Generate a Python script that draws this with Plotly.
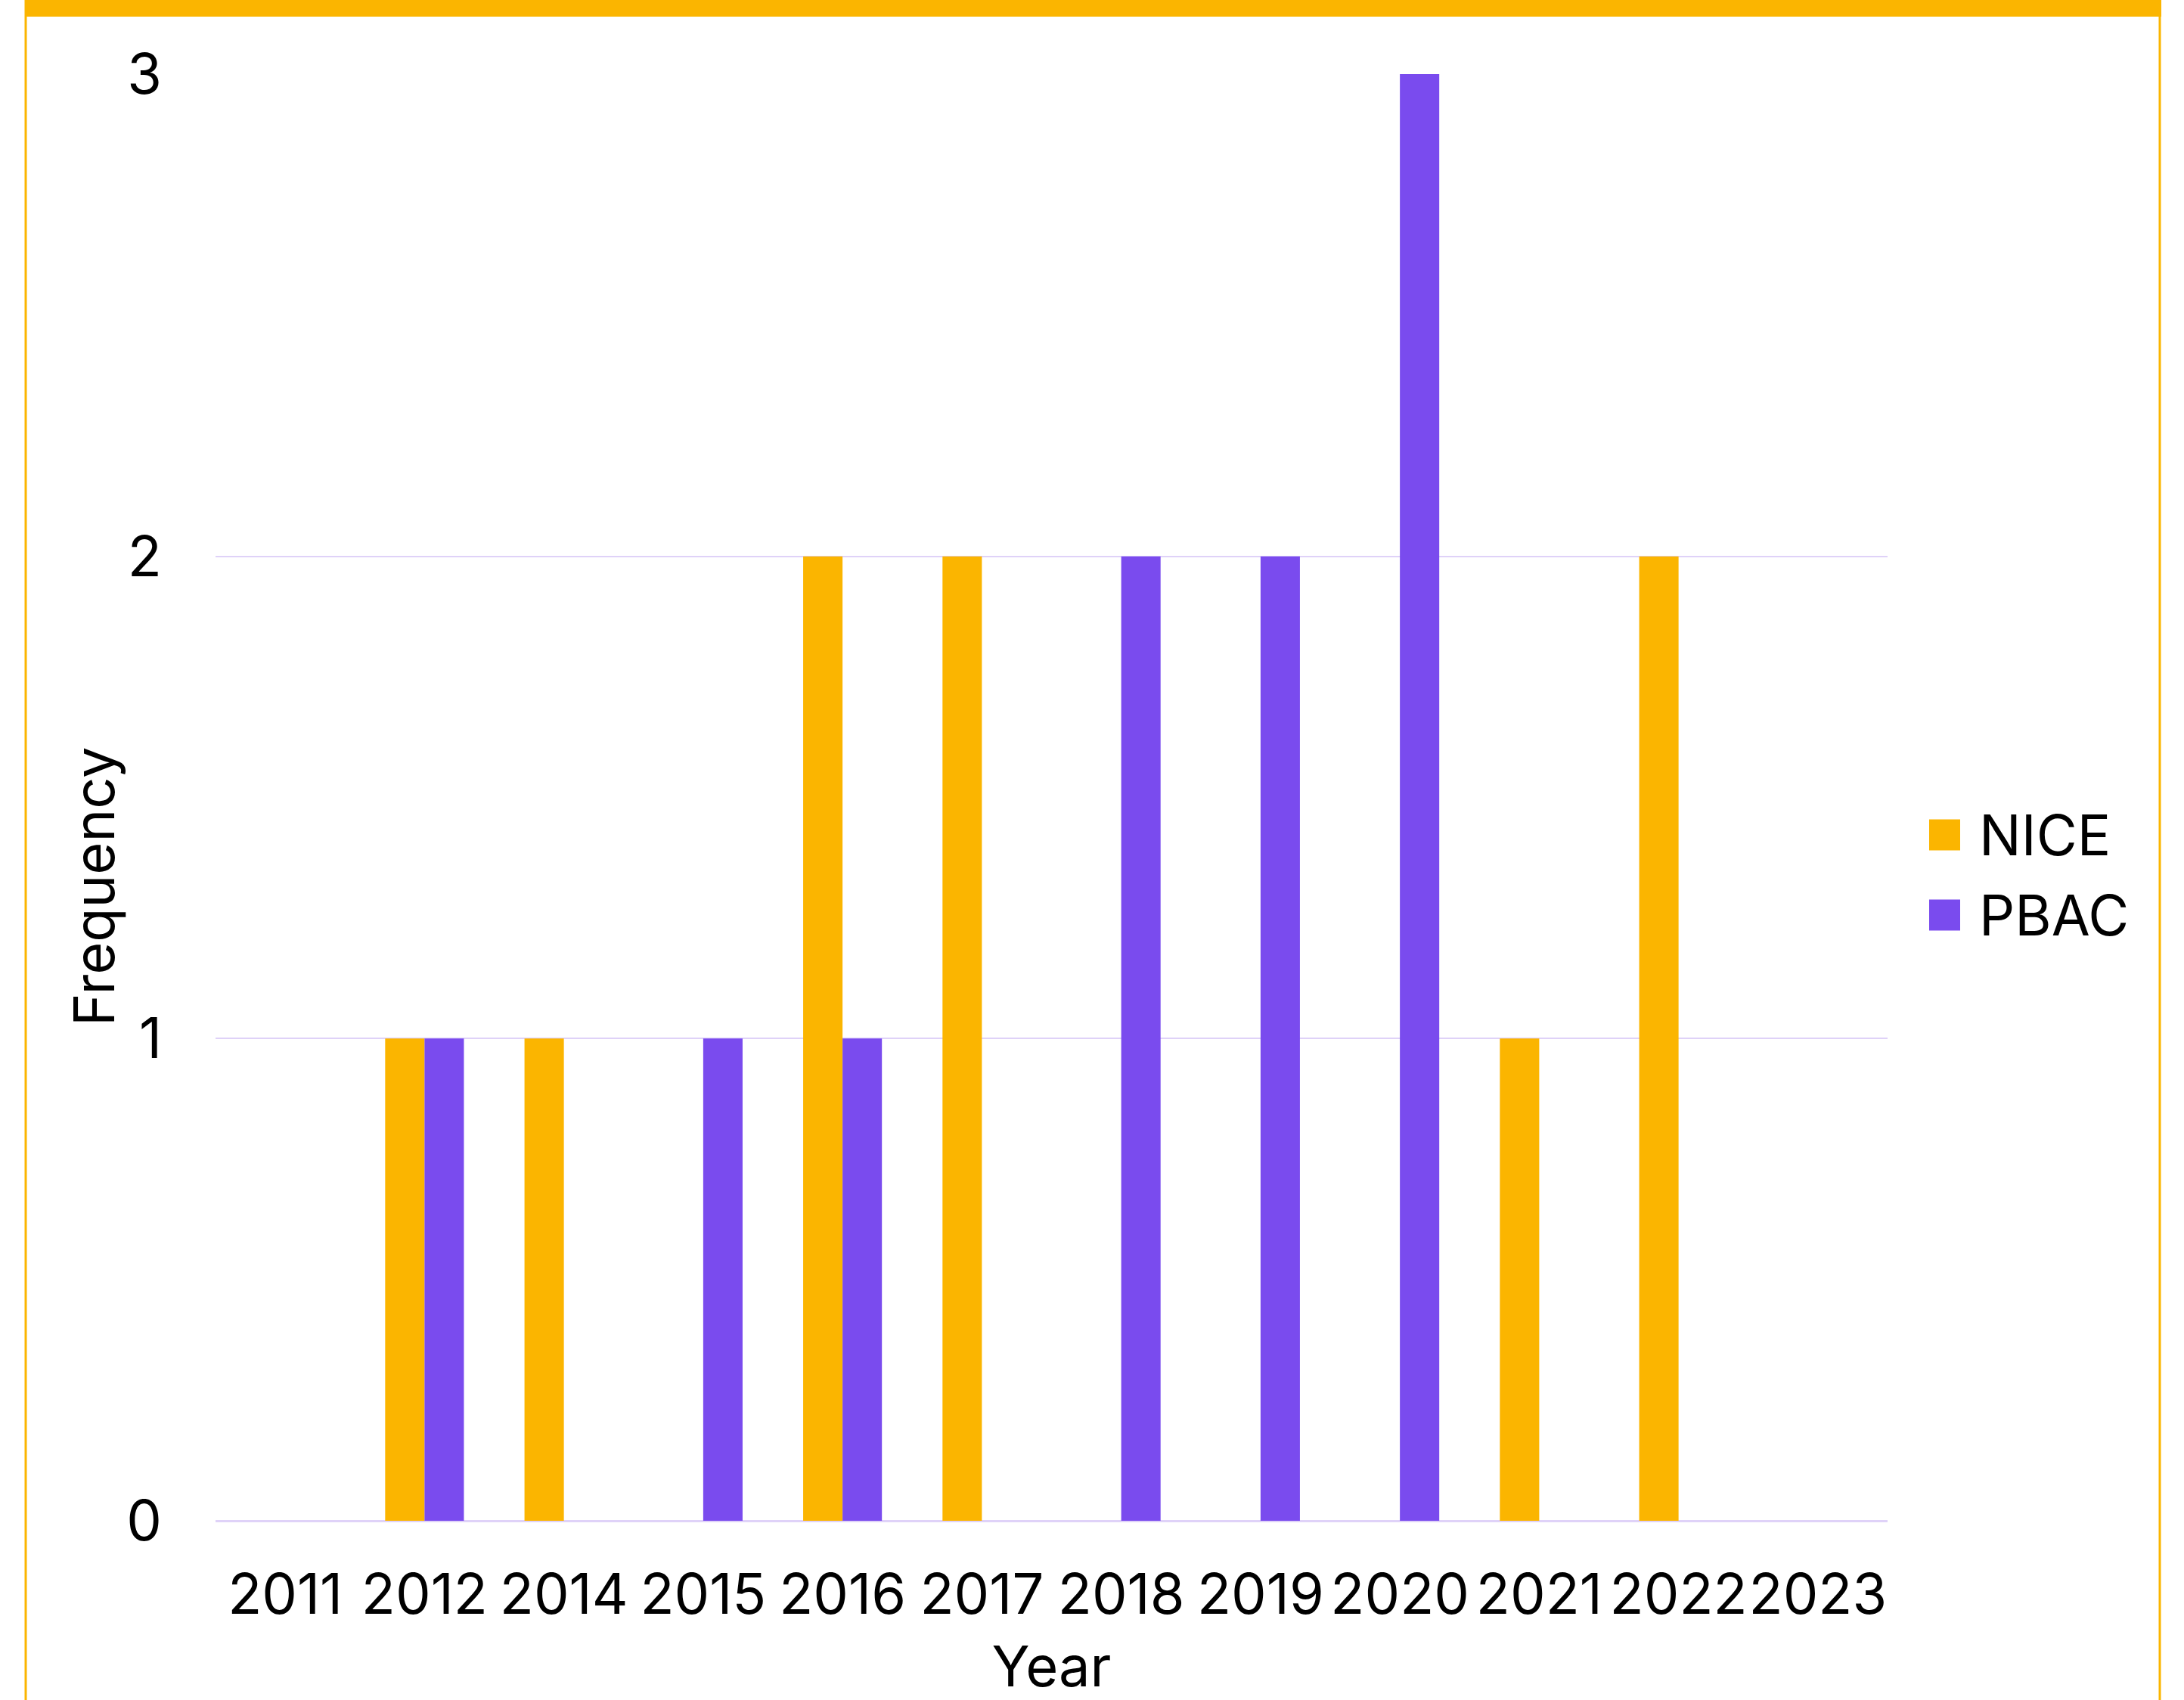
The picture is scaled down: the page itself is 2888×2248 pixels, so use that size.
import plotly.graph_objects as go

years = ["2011", "2012", "2014", "2015", "2016", "2017", "2018", "2019", "2020", "2021", "2022", "2023"]
nice = [0, 1, 1, 0, 2, 2, 0, 0, 0, 1, 2, 0]
pbac = [0, 1, 0, 1, 1, 0, 2, 2, 3, 0, 0, 0]
series_names = ["NICE", "PBAC"]
colors = ["#FBB500", "#7A4BEE"]
y_ticks = [0, 1, 2, 3]
x_title = "Year"
y_title = "Frequency"

W, H = 2888, 2248
L, R, T, B = 285, 392, 98, 237
PW, PH = W - L - R, H - T - B
FONT = "Inter"
FS = 74


def px(x):
    return (x - L) / PW


def py(y):
    return (H - B - y) / PH


fig = go.Figure()
for name, vals, col in zip(series_names, [nice, pbac], colors):
    fig.add_trace(go.Bar(x=years, y=vals, name=name, marker=dict(color=col, line=dict(width=0)),
                         showlegend=False))

fig.update_layout(
    width=W, height=H,
    margin=dict(l=L, r=R, t=T, b=B, autoexpand=False),
    paper_bgcolor="white", plot_bgcolor="white",
    barmode="group", bargap=0.435, bargroupgap=0,
    font=dict(family=FONT, size=FS, color="black"),
    xaxis=dict(type="category", showgrid=False, zeroline=False, showline=False,
               ticks="", ticklabelstandoff=48, tickangle=0, automargin=False,
               title=dict(text=x_title, font=dict(size=FS), standoff=28)),
    yaxis=dict(range=[0, 3], tickvals=y_ticks, showgrid=True, gridcolor="#DFD2F8", gridwidth=2,
               zeroline=True, zerolinecolor="#DFD2F8", zerolinewidth=3, showline=False,
               ticks="", ticklabelstandoff=70, automargin=False),
)

shapes = []
# frame: top band, left and right borders
shapes.append(dict(type="rect", xref="paper", yref="paper", x0=px(33), x1=px(2858), y0=py(0), y1=py(22),
                   fillcolor="#FBB500", line=dict(width=0), layer="above"))
shapes.append(dict(type="line", xref="paper", yref="paper", x0=px(34), x1=px(34), y0=py(0), y1=py(H),
                   line=dict(color="#FBB500", width=3)))
shapes.append(dict(type="line", xref="paper", yref="paper", x0=px(2856), x1=px(2856), y0=py(0), y1=py(H),
                   line=dict(color="#FBB500", width=3)))

annotations = [dict(xref="paper", yref="paper", x=px(124), y=py(1172), text=y_title, textangle=-90,
                    showarrow=False, xanchor="center", yanchor="middle",
                    font=dict(size=FS, color="black"))]

# legend
leg_y = [1104, 1210]
for name, col, yc in zip(series_names, colors, leg_y):
    shapes.append(dict(type="rect", xref="paper", yref="paper", x0=px(2551), x1=px(2592),
                       y0=py(yc + 20.5), y1=py(yc - 20.5), fillcolor=col, line=dict(width=0)))
    annotations.append(dict(xref="paper", yref="paper", x=px(2615), y=py(yc), text=name,
                            showarrow=False, xanchor="left", yanchor="middle",
                            font=dict(size=FS, color="black")))

fig.update_layout(shapes=shapes, annotations=annotations)
fig.write_html("out.html")
